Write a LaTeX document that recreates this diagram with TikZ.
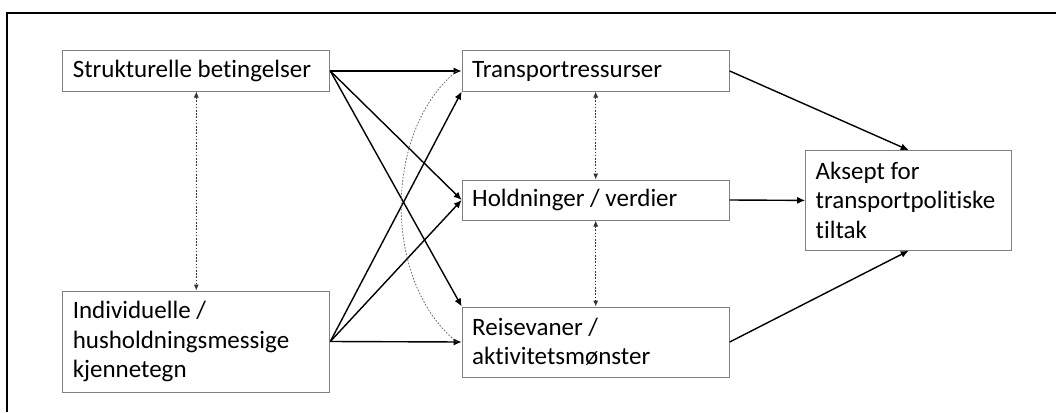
\documentclass[tikz,border=0pt]{standalone}
\usepackage{fontspec}
\setmainfont{Carlito}[Ligatures=NoCommon]
\usetikzlibrary{positioning, arrows.meta}

\begin{document}
\begin{tikzpicture}[
    x=1pt, y=-1pt,
    every node/.style={font=\fontsize{25}{29.5}\selectfont},
    factor/.style={draw=black!50, line width=1pt, rectangle, align=flush left,
                   inner xsep=10pt, inner ysep=0pt},
    arrow/.style={-{Latex[length=8pt, width=7pt]}, line width=1.4pt},
    link/.style={{Latex[length=6pt, width=5pt]}-{Latex[length=6pt, width=5pt]},
                 line width=0.8pt, dash pattern=on 1.6pt off 1.6pt, black!80}
]
\useasboundingbox (0,0) rectangle (1056,412);

% Frame
\draw[line width=2pt] (1056,13) -- (7,13) -- (7,412);

% Left column
\node[factor, text width=247pt, minimum height=40pt] (struk) at (196.3,71) {Strukturelle betingelser};
\node[factor, text width=247pt, minimum height=101pt] (indiv) at (196.3,341.5) {Individuelle /\\husholdningsmessige\\kjennetegn};

% Middle column
\node[factor, text width=247pt, minimum height=40pt] (transp) at (595.7,71) {Transportressurser};
\node[factor, text width=247pt, minimum height=40pt] (hold) at (595.7,200) {Holdninger / verdier};
\node[factor, text width=247pt, minimum height=70pt] (reise) at (595.7,342) {Reisevaner /\\aktivitetsmønster};

% Right column
\node[factor, text width=186pt, minimum height=99.5pt] (aksept) at (908.7,200.4) {Aksept for\\transportpolitiske\\tiltak};

\draw[arrow] (struk.east) -- (transp.west);
\draw[arrow] (struk.east) -- (hold.west);
\draw[arrow] (struk.east) -- (reise.north west);
\draw[arrow] (indiv.east) -- (transp.south west);
\draw[arrow] (indiv.east) -- (hold.west);
\draw[arrow] (indiv.east) -- (reise.west);

\draw[arrow] (transp.east) -- (aksept.north);
\draw[arrow] (hold.east) -- (aksept.west);
\draw[arrow] (reise.east) -- (aksept.south);

\draw[link] (struk.south) -- (indiv.north);
\draw[link] (transp.south) -- (hold.north);
\draw[link] (hold.south) -- (reise.north);
\draw[line width=0.8pt, dash pattern=on 1.6pt off 1.6pt, black!60]
    ([xshift=-5pt]transp.west) .. controls +(-74,60) and +(-74,-60) .. ([xshift=-5pt]reise.west);

\end{tikzpicture}
\end{document}
